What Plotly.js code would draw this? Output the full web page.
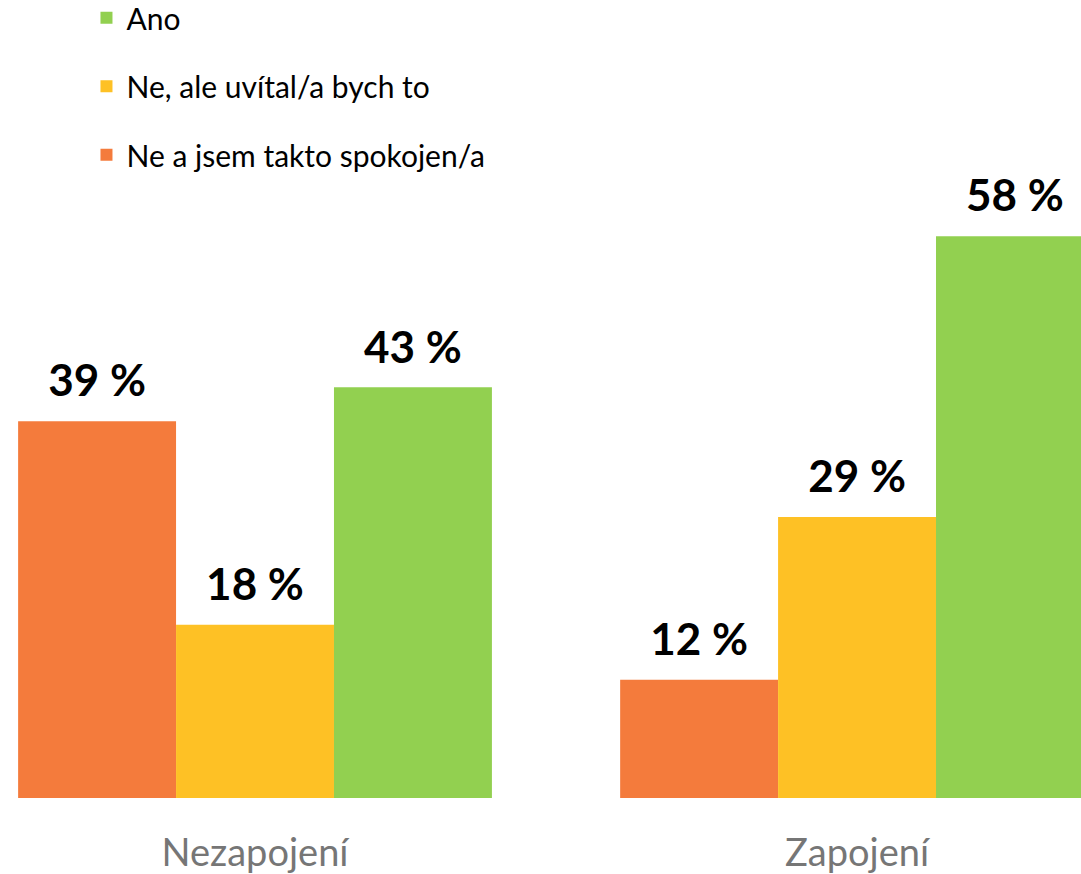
<!DOCTYPE html>
<html>
<head>
<meta charset="utf-8">
<script src="https://cdn.plot.ly/plotly-3.0.1.min.js"></script>
<style>html,body{margin:0;padding:0;background:#fff;}#chart{width:1081px;height:874px;}</style>
</head>
<body>
<div id="chart"></div>
<script>
const categories = ["Nezapojení", "Zapojení"];
const seriesNames = ["Ne a jsem takto spokojen/a", "Ne, ale uvítal/a bych to", "Ano"];
const spokojenValues = [38.9, 12.2];
const uvitalValues = [17.9, 29.0];
const anoValues = [42.4, 58.0];
const spokojenLabels = ["39 %", "12 %"];
const uvitalLabels = ["18 %", "29 %"];
const anoLabels = ["43 %", "58 %"];
const colors = ["#F47B3C", "#FEC125", "#92D050"];

const values = [spokojenValues, uvitalValues, anoValues];
const labels = [spokojenLabels, uvitalLabels, anoLabels];
const font = "Lato, 'Open Sans', sans-serif";

const data = seriesNames.map((name, i) => ({
  type: "bar",
  name: name,
  x: categories,
  y: values[i],
  text: labels[i].map(t => "<span style='font-size:44px'>" + t + "</span><br><span style='font-size:4px'> </span>"),
  texttemplate: "%{text}",
  textposition: "outside",
  cliponaxis: false,
  textfont: {family: font, size: 16, color: "#000", weight: "bold"},
  marker: {color: colors[i]},
  legendgroup: "g" + i,
  legendrank: 3 - i,
  hoverinfo: "none"
}));

const layout = {
  width: 1081, height: 874,
  margin: {l: 0, r: 0, t: 120, b: 76, autoexpand: false},
  paper_bgcolor: "#fff", plot_bgcolor: "#fff",
  barmode: "group",
  bargap: 0.213,
  bargroupgap: 0,
  font: {family: font},
  xaxis: {
    type: "category",
    range: [-0.4236, 1.372],
    showgrid: false, zeroline: false, showline: false,
    ticks: "",
    ticklabelstandoff: 29,
    tickfont: {family: font, size: 38, color: "#767676"}
  },
  yaxis: {
    range: [0, 70],
    visible: false,
    showgrid: false, zeroline: false
  },
  showlegend: true,
  legend: {
    x: 0.08, y: 1.189, xref: "paper", yref: "paper",
    xanchor: "left", yanchor: "top",
    traceorder: "grouped",
    tracegroupgap: 26.5,
    font: {family: font, size: 30, color: "#000"},
    bgcolor: "rgba(0,0,0,0)",
    itemwidth: 30
  }
};

Plotly.newPlot("chart", data, layout, {displayModeBar: false, staticPlot: true});
</script>
</body>
</html>
